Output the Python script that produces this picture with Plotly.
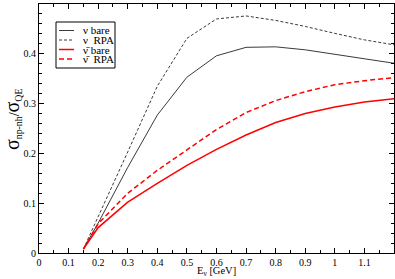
import plotly.graph_objects as go

# ---- data ----
energy = [0.15, 0.2, 0.3, 0.4, 0.5, 0.6, 0.7, 0.8, 0.9, 1.0, 1.1, 1.2]
nu_bare = [0.008, 0.060, 0.172, 0.277, 0.353, 0.396, 0.413, 0.414, 0.408, 0.399, 0.389, 0.381]
nu_rpa = [0.008, 0.072, 0.203, 0.335, 0.431, 0.470, 0.476, 0.467, 0.455, 0.441, 0.428, 0.418]
nubar_bare = [0.008, 0.051, 0.102, 0.140, 0.176, 0.208, 0.237, 0.262, 0.280, 0.293, 0.303, 0.310]
nubar_rpa = [0.008, 0.059, 0.120, 0.166, 0.207, 0.248, 0.282, 0.306, 0.324, 0.338, 0.346, 0.352]

series_names = ["\u03bd bare", "\u03bd  RPA", "\u03bd\u0304 bare", "\u03bd\u0304  RPA"]
x_ticks = [0, 0.1, 0.2, 0.3, 0.4, 0.5, 0.6, 0.7, 0.8, 0.9, 1.0, 1.1]
x_tick_labels = ["0", "0.1", "0.2", "0.3", "0.4", "0.5", "0.6", "0.7", "0.8", "0.9", "1", "1.1"]
y_ticks = [0, 0.1, 0.2, 0.3, 0.4, 0.5]
y_tick_labels = ["0", "0.1", "0.2", "0.3", "0.4", "0.5"]

styles = [
    dict(color="#3a3a3a", width=1, dash="solid"),
    dict(color="#3a3a3a", width=1, dash="3px,2px"),
    dict(color="#ff0000", width=1.5, dash="solid"),
    dict(color="#ff0000", width=1.5, dash="5px,3px"),
]

W, H = 395, 279
L, R, T, B = 39, 1, 4, 26
pw, ph = W - L - R, H - T - B

def px_x(p):
    return (p - L) / pw

def px_y(p):
    return (H - B - p) / ph

fig = go.Figure()
for ys, name, st in zip([nu_bare, nu_rpa, nubar_bare, nubar_rpa], series_names, styles):
    fig.add_trace(go.Scatter(x=energy, y=ys, mode="lines", name=name, line=st,
                             showlegend=False, cliponaxis=True))

FONT = "Liberation Serif, Times New Roman, serif"

axis_common = dict(
    showline=True, linecolor="black", linewidth=1, mirror="allticks",
    ticks="inside", ticklen=5, tickwidth=1, tickcolor="black",
    showgrid=False, zeroline=False, automargin=False,
    tickfont=dict(family=FONT, size=10, color="black"),
)

fig.update_xaxes(range=[0, 1.2], tickvals=x_ticks, ticktext=x_tick_labels,
                 minor=dict(dtick=0.05, ticks="inside", ticklen=3, tickcolor="black", showgrid=False),
                 **axis_common)
fig.update_yaxes(range=[0, 0.5], tickvals=y_ticks, ticktext=y_tick_labels,
                 minor=dict(dtick=0.02, ticks="inside", ticklen=3, tickcolor="black", showgrid=False),
                 **axis_common)

annotations = []
# axis titles
annotations.append(dict(xref="paper", yref="paper", x=0.499, y=px_y(271.5), xanchor="center", yanchor="middle",
                        text="E<sub>\u03bd</sub> [GeV]", showarrow=False,
                        font=dict(family=FONT, size=10.5, color="black")))
annotations.append(dict(xref="paper", yref="paper", x=px_x(12), y=px_y(120), xanchor="center", yanchor="middle",
                        textangle=-90,
                        text="<span style='font-size:20px'>\u03c3</span><sub>np-nh</sub>/<span style='font-size:20px'>\u03c3</span><sub>QE</sub>",
                        showarrow=False, font=dict(family=FONT, size=14, color="black")))

shapes = []
# legend box
shapes.append(dict(type="rect", xref="paper", yref="paper", x0=px_x(56), x1=px_x(115),
                   y0=px_y(68), y1=px_y(22), line=dict(color="black", width=1), fillcolor="white"))
rows = [30.5, 40, 49.5, 59]
for name, st, ry in zip(series_names, styles, rows):
    shapes.append(dict(type="line", xref="paper", yref="paper", x0=px_x(59), x1=px_x(74),
                       y0=px_y(ry), y1=px_y(ry), line=st))
    annotations.append(dict(xref="paper", yref="paper", x=px_x(81), y=px_y(ry), xanchor="left",
                            yanchor="middle", text=name, showarrow=False,
                            font=dict(family=FONT, size=11, color="black")))

fig.update_layout(
    template="none",
    width=W, height=H, margin=dict(l=L, r=R, t=T, b=B),
    paper_bgcolor="white", plot_bgcolor="white",
    shapes=shapes, annotations=annotations, showlegend=False,
)

fig.write_html("out.html", config={"displayModeBar": False, "staticPlot": True},
               post_script="document.body.style.margin='0';document.body.style.padding='0';")
